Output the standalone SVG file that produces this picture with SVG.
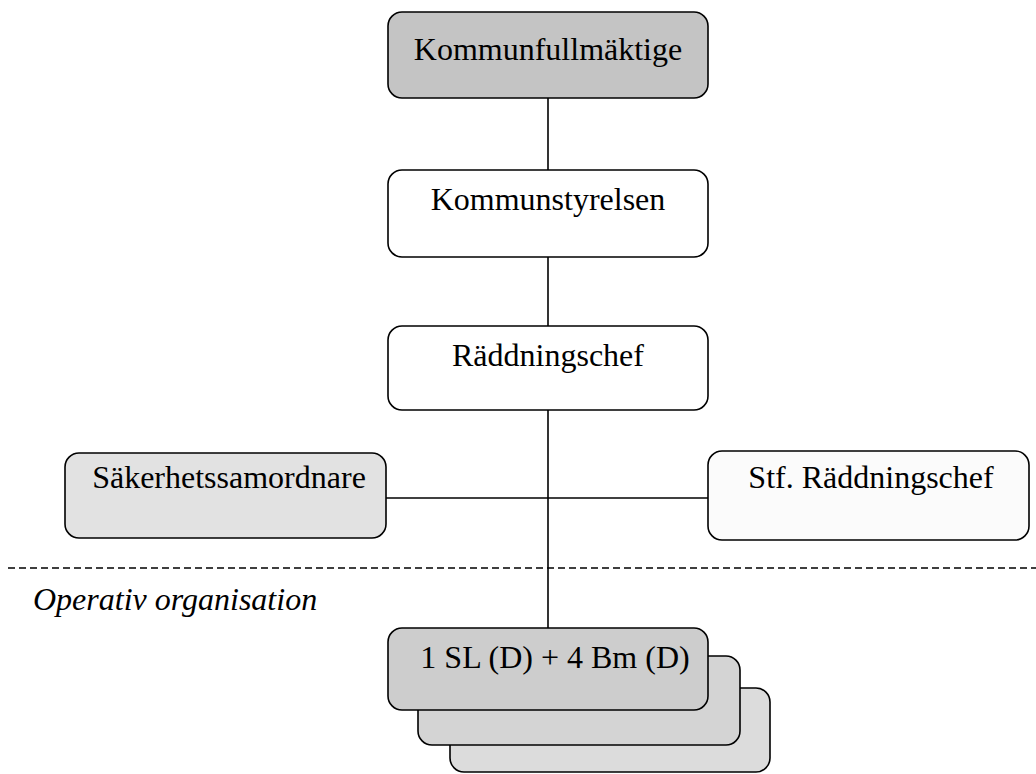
<svg xmlns="http://www.w3.org/2000/svg" width="1036" height="774" viewBox="0 0 1036 774">
<style>
.box{stroke:#000;stroke-width:1.6}
.t{font-family:"Liberation Serif","Times New Roman",serif;font-size:32px;fill:#000;text-anchor:middle}
.c{stroke:#000;stroke-width:1.6;fill:none}
</style>
<rect width="1036" height="774" fill="#fff"/>
<g id="connectors">
<line class="c" x1="548" y1="98" x2="548" y2="170"/>
<line class="c" x1="548" y1="257" x2="548" y2="326"/>
<line class="c" x1="548" y1="410" x2="548" y2="628"/>
<line class="c" x1="386" y1="498" x2="708" y2="498"/>
<line x1="8" y1="568" x2="1036" y2="568" stroke="#000" stroke-width="1.6" stroke-dasharray="7,4"/>
</g>
<g id="kommunfullmaktige">
<rect class="box" x="388" y="12" width="320" height="86" rx="14" fill="#c4c4c4"/>
<text class="t" x="548" y="60">Kommunfullmäktige</text>
</g>
<g id="kommunstyrelsen">
<rect class="box" x="388" y="170" width="320" height="87" rx="14" fill="#fff"/>
<text class="t" x="548" y="210">Kommunstyrelsen</text>
</g>
<g id="raddningschef">
<rect class="box" x="388" y="326" width="320" height="84" rx="14" fill="#fff"/>
<text class="t" x="548" y="366">Räddningschef</text>
</g>
<g id="sakerhetssamordnare">
<rect class="box" x="65" y="453" width="321" height="85" rx="14" fill="#e2e2e2"/>
<text class="t" x="229" y="488">Säkerhetssamordnare</text>
</g>
<g id="stf-raddningschef">
<rect class="box" x="708" y="451" width="321" height="89" rx="14" fill="#fbfbfb"/>
<text class="t" x="871" y="488">Stf. Räddningschef</text>
</g>
<text x="33" y="610" font-family="Liberation Serif,Times New Roman,serif" font-size="32" font-style="italic">Operativ organisation</text>
<g id="operativ-stack">
<rect class="box" x="450" y="688" width="320" height="84" rx="14" fill="#dcdcdc"/>
<rect class="box" x="418" y="656" width="322" height="89" rx="14" fill="#d4d4d4"/>
<rect class="box" x="388" y="628" width="320" height="82" rx="14" fill="#cdcdcd"/>
<text class="t" x="555" y="668" font-size="34">1 SL (D) + 4 Bm (D)</text>
</g>
</svg>
